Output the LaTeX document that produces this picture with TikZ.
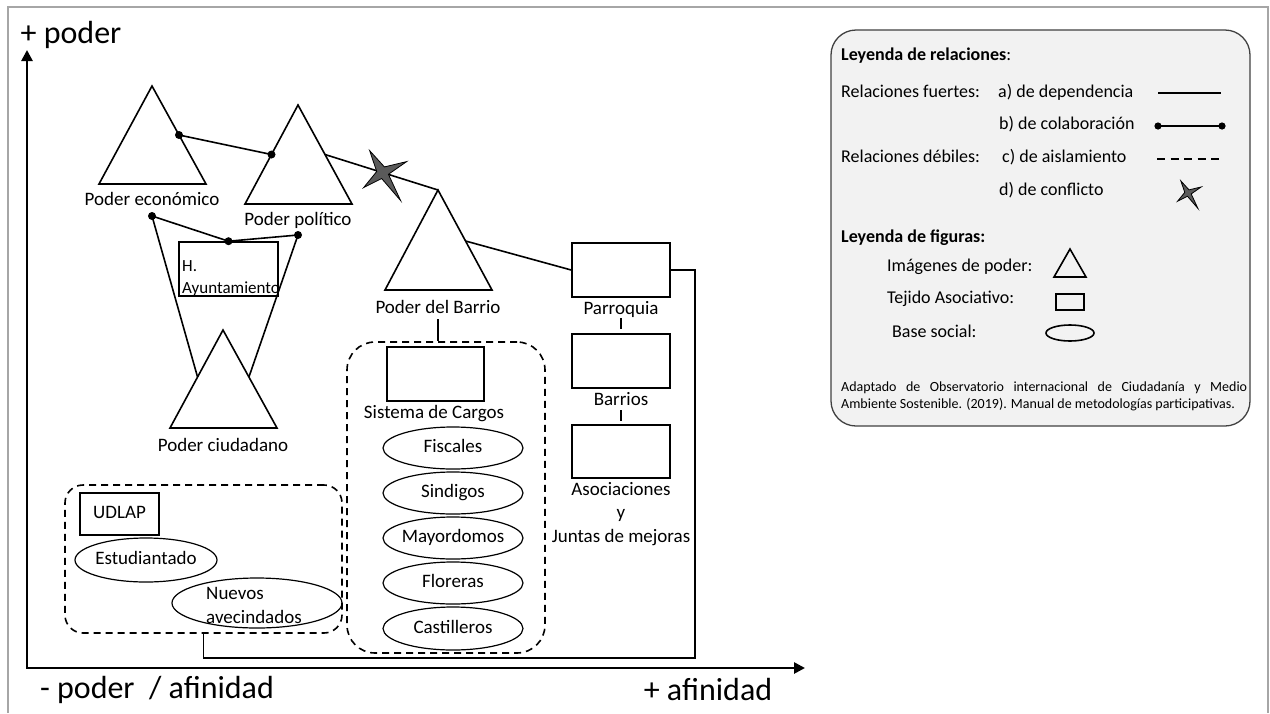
\documentclass[tikz,border=0pt]{standalone}
\usepackage{fontspec}
\setmainfont{Carlito}
\usetikzlibrary{arrows.meta,calc,shapes.geometric}
\definecolor{legfill}{HTML}{F2F2F2}
\definecolor{legdraw}{HTML}{404040}
\definecolor{starfill}{HTML}{5A5A5A}
\definecolor{framegray}{HTML}{A6A6A6}
\tikzset{
  lbl/.style={font=\fontsize{19}{23}\selectfont, inner sep=0pt, text height=1.03em, text depth=0.05em},
  lblm/.style={font=\fontsize{19}{23.5}\selectfont, inner sep=0pt, align=center},
  axl/.style={font=\fontsize{32}{36}\selectfont, inner sep=0pt, text height=1.03em, text depth=0.05em},
  leg/.style={font=\fontsize{18}{22}\selectfont, inner sep=0pt, anchor=west, text height=1.03em, text depth=0.05em},
  rbox/.style={draw, line width=1.6pt, rectangle, inner sep=0pt},
  oval/.style={draw, ellipse, line width=1.2pt, inner sep=0pt},
  dashgroup/.style={draw, line width=1.6pt, dash pattern=on 7pt off 5pt, rectangle, inner sep=0pt},
  tri/.style={line width=1.6pt, line join=miter},
  relline/.style={line width=1.6pt},
  axisline/.style={line width=2.6pt, line join=miter, {Triangle[width=11pt,length=11pt]}-{Triangle[width=11pt,length=11pt]}},
  conflict/.pic={
    \filldraw[fill=starfill, draw=black, line width=0.8pt]
      (-13,-22) -- (1.8,-5.7) -- (24,-11) -- (5.8,1.7) -- (18,28) -- (-1,5.9) -- (-19,15) -- (-5.9,-1.1) -- cycle;
  }
}
\begin{document}
\begin{tikzpicture}[x=1pt,y=-1pt]
\useasboundingbox (0,0) rectangle (1270,713);
% frame
\draw[framegray, line width=1.5pt] (8,713) -- (8,7) -- (1268,7) -- (1268,713);

% axes
\coordinate (O) at (27,668);
\coordinate (ytip) at (27,50);
\coordinate (xtip) at (805,668);
\draw[axisline] (ytip) -- (O) -- (xtip);
\node[axl] (ypl) at (71,39) {+ poder};
\node[axl] (xml) at (157,694) {- poder\ \ / afinidad};
\node[axl] (xpl) at (708,696) {+ afinidad};

% triangles
\coordinate (Et) at (152,86);  \coordinate (El) at (99,184);  \coordinate (Er) at (206,184);
\coordinate (Pt) at (298,105); \coordinate (Pl) at (245,204); \coordinate (Pr) at (352,204);
\coordinate (Bt) at (438,190); \coordinate (Bl) at (385,290); \coordinate (Br) at (492,290);
\coordinate (Ct) at (223,330); \coordinate (Cl) at (170,428); \coordinate (Cr) at (277,428);
\draw[tri] (Et) -- (El) -- (Er) -- cycle;
\draw[tri] (Pt) -- (Pl) -- (Pr) -- cycle;
\draw[tri] (Bt) -- (Bl) -- (Br) -- cycle;
\draw[tri] (Ct) -- (Cl) -- (Cr) -- cycle;
\node[lbl] (Elab) at (152,201) {Poder económico};
\node[lbl] (Plab) at (298,221) {Poder político};
\node[lbl] (Blab) at (438,309) {Poder del Barrio};
\node[lbl] (Clab) at (223,447) {Poder ciudadano};

% boxes
\node[rbox, minimum width=99pt, minimum height=54pt] (ayunt) at (228.5,269) {};
\node[anchor=base west, inner sep=0pt, font=\fontsize{17}{21}\selectfont] (ayl1) at (182,271) {H.};
\node[anchor=base west, inner sep=0pt, font=\fontsize{17}{21}\selectfont] (ayl2) at (182,293) {Ayuntamiento};

\node[rbox, minimum width=98pt, minimum height=54pt] (parroq) at (621,270) {};
\node[lbl] (parlab) at (621,310) {Parroquia};
\node[rbox, minimum width=98pt, minimum height=54pt] (barrios) at (621,361) {};
\node[lbl] (barlab) at (621,401) {Barrios};
\node[rbox, minimum width=98pt, minimum height=53pt] (asoc) at (621,451.5) {};
\node[lblm] (asolab) at (621,514) {Asociaciones\\y\\Juntas de mejoras};

% Sistema de cargos group
\node[dashgroup, rounded corners=28pt, minimum width=198pt, minimum height=311pt] (sisgroup) at (446,497.5) {};
\node[rbox, minimum width=97pt, minimum height=54pt] (sistema) at (435.5,374) {};
\node[lbl] (sislab) at (434,414) {Sistema de Cargos};
\node[oval, minimum width=140pt, minimum height=42pt, label={[lbl]center:Fiscales}] (fisc) at (453,448) {};
\node[oval, minimum width=140pt, minimum height=42pt, label={[lbl]center:Sindigos}] (sind) at (453,493) {};
\node[oval, minimum width=140pt, minimum height=42pt, label={[lbl]center:Mayordomos}] (mayor) at (453,538) {};
\node[oval, minimum width=140pt, minimum height=42pt, label={[lbl]center:Floreras}] (flor) at (453,583) {};
\node[oval, minimum width=140pt, minimum height=43pt, label={[lbl]center:Castilleros}] (cast) at (453,628.5) {};

% UDLAP group
\node[dashgroup, rounded corners=18pt, minimum width=277pt, minimum height=148pt] (udgroup) at (203.5,559) {};
\node[rbox, minimum width=79pt, minimum height=42pt, label={[lbl]center:UDLAP}] (udlap) at (119.5,514) {};
\node[oval, minimum width=142pt, minimum height=44pt, label={[lbl]center:Estudiantado}] (estud) at (146,560) {};
\node[oval, minimum width=170pt, minimum height=50pt] (nuevos) at (257,603) {};
\node[font=\fontsize{19}{24}\selectfont, inner sep=0pt, align=left] (nuevlab) at (254,605) {Nuevos\\avecindados};

% connectors
\coordinate (E1) at ($(Et)!0.5!(Er)$);
\coordinate (P1) at ($(Pt)!0.5!(Pl)$);
\coordinate (P2) at ($(Pt)!0.5!(Pr)$);
\coordinate (B1) at ($(Bt)!0.51!(Br)$);
\coordinate (C1) at ($(Ct)!0.48!(Cl)$);
\coordinate (C2) at ($(Ct)!0.48!(Cr)$);
\coordinate (A1) at (152,216);
\coordinate (A2) at (298,235);
\draw[relline] (E1) -- (P1);
\fill (E1) circle (4pt); \fill (P1) circle (4pt);
\draw[relline] (P2) -- (Bt);
\coordinate (S) at ($(P2)!0.51!(Bt)$);
\pic at (S) {conflict};
\draw[relline] (B1) -- (parroq.west);
\draw[relline] (C1) -- (A1) -- (ayunt.north) -- (A2) -- (C2);
\fill (A1) circle (4pt); \fill (ayunt.north) circle (4pt); \fill (A2) circle (4pt);
\coordinate (Btick) at (438,319);
\coordinate (Ptick) at (621,318);
\coordinate (Rtick) at (621,410);
\draw[relline] (Btick) -- (Btick |- sisgroup.north);
\draw[relline, shorten >=4pt] (Ptick) -- (barrios.north);
\draw[relline, shorten >=3pt] (Rtick) -- (asoc.north);
\coordinate (c1) at (695,658);
\draw[relline] (parroq.east) -| (c1) -| (udgroup.south);

% legend
\node[draw=legdraw, fill=legfill, line width=1.3pt, rounded corners=25pt, minimum width=419pt, minimum height=396pt, inner sep=0pt] (legend) at (1040.5,228) {};
\node[leg] (lg1) at (841,56) {\textbf{Leyenda de relaciones}:};
\node[leg] (lg2) at (841,93) {Relaciones fuertes:};
\node[leg] (lg3) at (998,93) {a) de dependencia};
\node[leg] (lg4) at (999,125) {b) de colaboración};
\node[leg] (lg5) at (841,158) {Relaciones débiles:};
\node[leg] (lg6) at (1002,158) {c) de aislamiento};
\node[leg] (lg7) at (999,191) {d) de conflicto};
\node[leg] (lg8) at (841,238) {\textbf{Leyenda de figuras:}};
\node[leg] (lg9) at (887,267) {Imágenes de poder:};
\node[leg] (lg10) at (887,299) {Tejido Asociativo:};
\node[leg] (lg11) at (892,333) {Base social:};
\coordinate (la1) at (1158,93);  \coordinate (la2) at (1221,93);
\coordinate (lb1) at (1158,126); \coordinate (lb2) at (1222,126);
\coordinate (lc1) at (1157,159); \coordinate (lc2) at (1220,159);
\draw[relline] (la1) -- (la2);
\draw[relline] (lb1) -- (lb2);
\fill (lb1) circle (3.6pt); \fill (lb2) circle (3.6pt);
\draw[relline, dash pattern=on 8pt off 5.5pt] (lc1) -- (lc2);
\pic[scale=0.55] at (1188,193) {conflict};
\coordinate (lt1) at (1070,249); \coordinate (lt2) at (1054,277); \coordinate (lt3) at (1086,277);
\draw[tri] (lt1) -- (lt2) -- (lt3) -- cycle;
\node[rbox, minimum width=28pt, minimum height=16pt] (lrect) at (1070,302) {};
\node[oval, line width=1.6pt, minimum width=48pt, minimum height=16pt] (lell) at (1070,333) {};
\node[anchor=north west, inner sep=0pt, text width=406pt, align=justify, font=\fontsize{14}{17}\selectfont] (cite) at (841,382)
  {Adaptado de Observatorio internacional de Ciudadanía y Medio\linebreak Ambiente Sostenible. (2019). Manual de metodologías participativas.};
\end{tikzpicture}
\end{document}
